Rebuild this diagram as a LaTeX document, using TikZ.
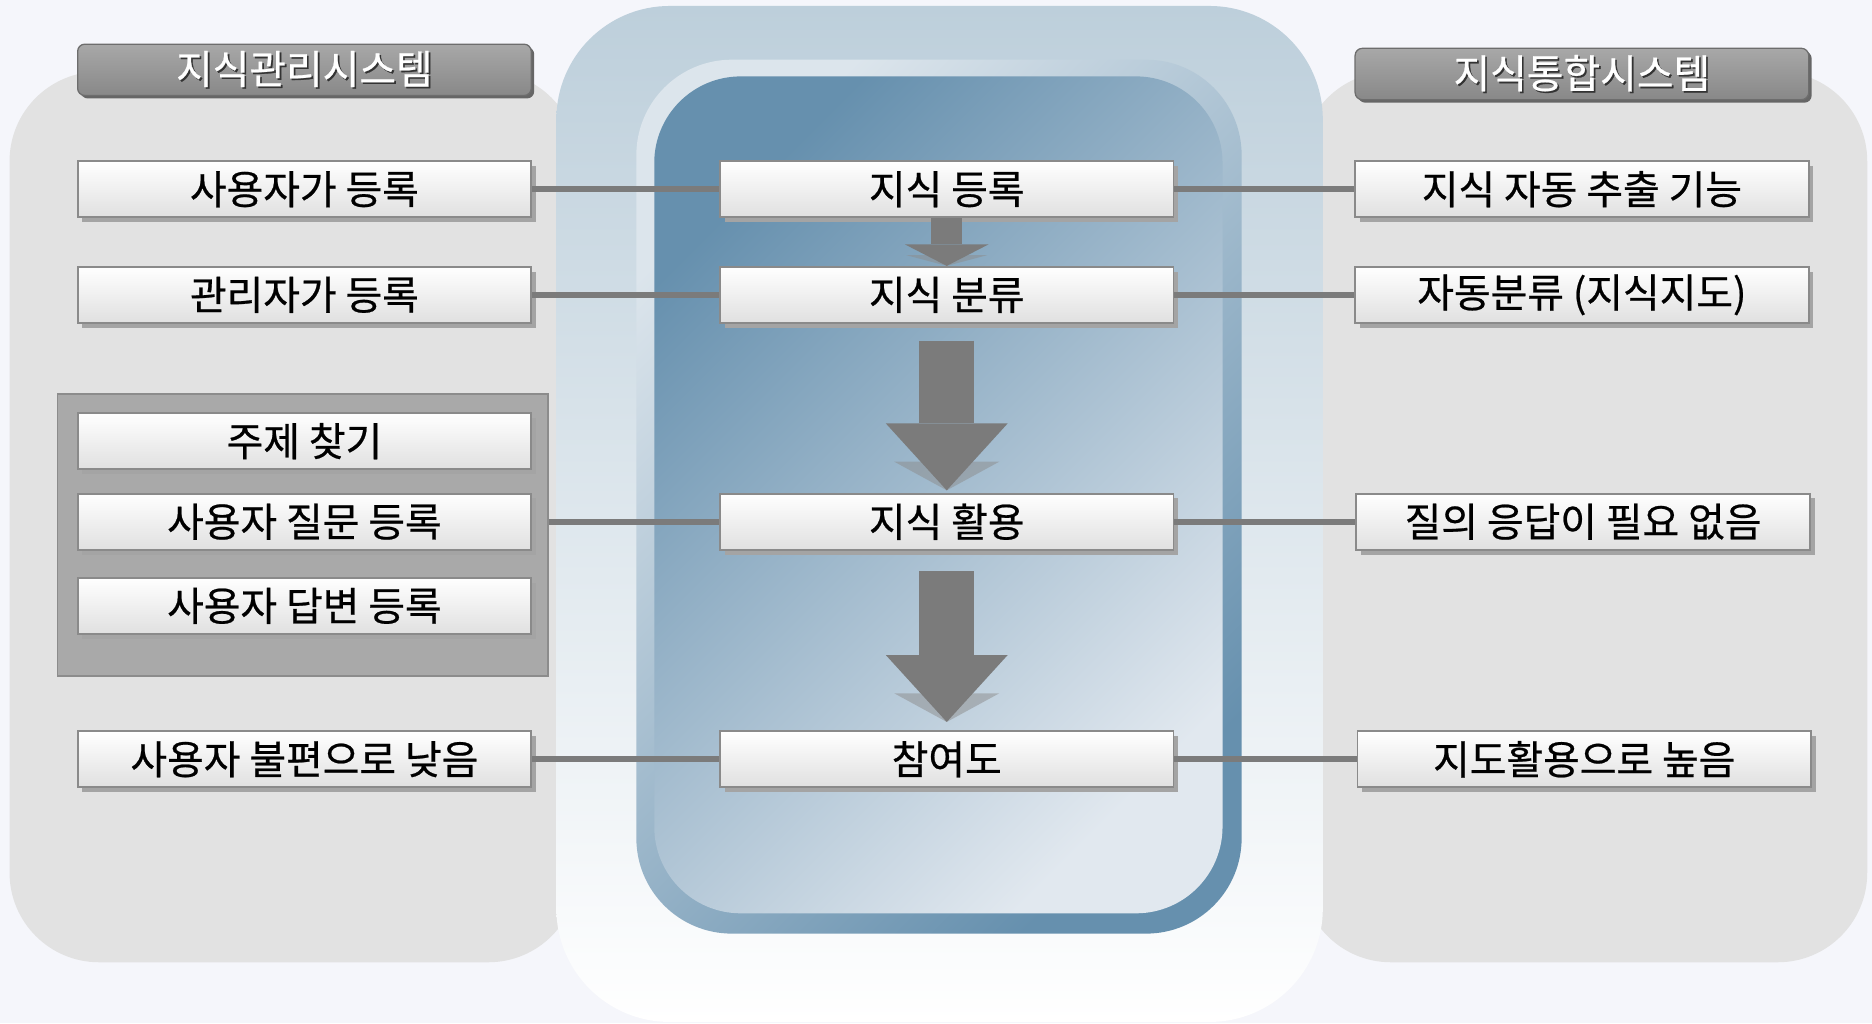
\documentclass[tikz,border=0pt]{standalone}
\usepackage{fontspec}
\setmainfont{Noto Sans CJK KR}
\newfontfamily\boxfont{Noto Sans CJK KR}[FakeBold=0.6]
\usetikzlibrary{shadows,arrows.meta,calc}

\definecolor{bgcol}{HTML}{F5F6FB}
\definecolor{sidegray}{HTML}{E2E2E2}
\definecolor{outerblue}{HTML}{BDCFDB}
\definecolor{outermid}{HTML}{DAE3EA}
\definecolor{ringlight}{HTML}{DCE5EC}
\definecolor{ringdark}{HTML}{6690AE}
\definecolor{innerdark}{HTML}{6690AE}
\definecolor{innerlight}{HTML}{E1E8EF}
\definecolor{boxline}{HTML}{8A8A8A}
\definecolor{boxbot}{HTML}{E0E0E0}
\definecolor{boxshade}{HTML}{A4A4A4}
\definecolor{hdrtop}{HTML}{A8A8A8}
\definecolor{hdrbot}{HTML}{888888}
\definecolor{grpgray}{HTML}{A9A9A9}
\definecolor{linkgray}{HTML}{7B7B7B}

\newcommand{\hdrtext}[1]{\makebox[0pt][l]{\textcolor{black!80}{\hspace{0.8pt}\raisebox{-0.8pt}{#1}}}#1}

\begin{document}
\begin{tikzpicture}[x=0.02cm, y=-0.02cm,
  box/.style={draw=boxline, line width=0.9pt, top color=white, bottom color=boxbot,
    minimum width=7.6cm, minimum height=0.94cm, inner sep=0pt,
    general shadow={fill=boxshade, shadow xshift=0.08cm, shadow yshift=-0.08cm}},
  hdr/.style={draw=hdrbot!80!black, line width=0.6pt, rounded corners=0.12cm,
    top color=hdrtop, bottom color=hdrbot, text=white,
    minimum width=7.6cm, minimum height=0.86cm, inner sep=0pt,
    general shadow={fill=black!60, shadow xshift=0.05cm, shadow yshift=-0.05cm}},
  grp/.style={draw=black!45, line width=0.8pt, fill=grpgray,
    minimum width=8.22cm, minimum height=4.72cm},
  link/.style={draw=linkgray, line width=0.1cm},
  flow/.style={draw=linkgray, line width=0.92cm,
    -{Triangle[width=2.04cm,length=1.12cm,line width=0pt]}},
  ashade/.style={fill=black!45, opacity=0.5},
  font=\boxfont\fontsize{19}{22}\selectfont]

  % background and panels
  \fill[bgcol] (0,0) rectangle (1568,857);
  \fill[sidegray, rounded corners=1.5cm] (8,60) rectangle (484,806);
  \fill[sidegray, rounded corners=1.5cm] (1090,60) rectangle (1564,806);
  \shade[rounded corners=1.9cm, top color=outerblue, middle color=outermid,
    bottom color=white] (466,5) rectangle (1108,856);
  \shade[rounded corners=1.6cm, top color=ringlight, bottom color=ringdark,
    shading angle=45] (533,50) rectangle (1040,782);
  \shade[rounded corners=1.45cm, top color=innerdark, bottom color=innerlight,
    shading angle=45] (548,64) rectangle (1024,765);

  \node[hdr] (kms) at (255,58.5) {\hdrtext{지식관리시스템}};
  \node[hdr] (kis) at (1325,62) {\hdrtext{지식통합시스템}};

  \node[grp] (qa) at (253.5,448) {};

  \node[box] (ureg) at (255,158.5) {사용자가 등록};
  \node[box] (areg) at (255,247) {관리자가 등록};
  \node[box] (topic) at (255,369.5) {주제 찾기};
  \node[box] (ques) at (255,437) {사용자 질문 등록};
  \node[box] (answ) at (255,507.5) {사용자 답변 등록};
  \node[box] (low) at (255,636) {사용자 불편으로 낮음};

  \node[box] (kreg) at (793,158.5) {지식 등록};
  \node[box] (kcls) at (793,247) {지식 분류};
  \node[box] (kuse) at (793,437) {지식 활용};
  \node[box] (part) at (793,636) {참여도};

  \node[box] (auto) at (1325,158.5) {지식 자동 추출 기능};
  \node[box] (cmap) at (1325,247) {자동분류 (지식지도)};
  \node[box] (noqa) at (1326,437) {질의 응답이 필요 없음};
  \node[box] (high) at (1327,636) {지도활용으로 높음};

  % connectors
  \draw[link] (ureg) -- (kreg);
  \draw[link] (kreg) -- (auto);
  \draw[link] (areg) -- (kcls);
  \draw[link] (kcls) -- (cmap);
  \draw[link] (ques -| qa.east) -- (kuse);
  \draw[link] (kuse) -- (noqa);
  \draw[link] (low) -- (part);
  \draw[link] (part) -- (high);

  % flow arrows
  \fill[ashade] ($(kcls.north)+(-34,-9)$) -- ($(kcls.north)+(34,-9)$) -- (kcls.north) -- cycle;
  \fill[ashade] ($(kuse.north)+(-44,-26)$) -- ($(kuse.north)+(44,-26)$) -- ($(kuse.north)+(0,-2)$) -- cycle;
  \fill[ashade] ($(part.north)+(-44,-31)$) -- ($(part.north)+(44,-31)$) -- ($(part.north)+(0,-7)$) -- cycle;
  \draw[flow, line width=0.52cm, -{Triangle[width=1.4cm,length=0.36cm,line width=0pt]}] (kreg.south) -- (kcls.north);
  \draw[flow, shorten <=0.28cm, shorten >=0.04cm] (kcls.south) -- (kuse.north);
  \draw[flow, shorten <=0.34cm, shorten >=0.14cm] (kuse.south) -- (part.north);
\end{tikzpicture}
\end{document}
